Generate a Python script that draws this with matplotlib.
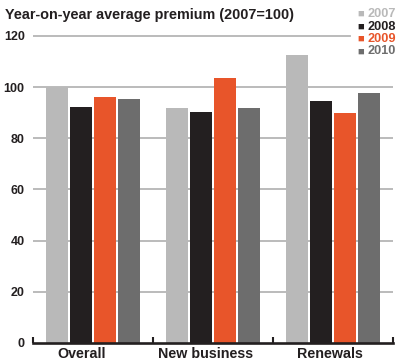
import matplotlib
matplotlib.use("Agg")
import matplotlib.pyplot as plt
import numpy as np

categories = ["Overall", "New business", "Renewals"]
years = ["2007", "2008", "2009", "2010"]
v2007 = [100.0, 92.0, 112.5]
v2008 = [92.3, 90.2, 94.6]
v2009 = [96.0, 103.5, 89.7]
v2010 = [95.2, 91.9, 97.5]
yticks = [0, 20, 40, 60, 80, 100, 120]
colors = ["#b9b9b9", "#231f20", "#e8552a", "#6d6d6d"]

plt.rcParams['font.family'] = ['Liberation Sans', 'DejaVu Sans']

fig = plt.figure(figsize=(4.0, 3.64), dpi=100)
ax = fig.add_axes([0.0825, 0.0577, 0.90, 0.879])
ax.set_xlim(0, 3)
ax.set_ylim(0, 125)

# gridlines
for t in yticks[1:]:
    xmax = 0.88 if t == 120 else 1.0
    ax.axhline(t, xmin=0, xmax=xmax, color="#b5b5b5", lw=1.3, zorder=1)

series = [v2007, v2008, v2009, v2010]
x = np.arange(len(categories)) + 0.5
offsets = [-0.3, -0.1, 0.1, 0.3]
for vals, off, c in zip(series, offsets, colors):
    ax.bar(x + off, vals, width=0.185, color=c, zorder=2)

# baseline and group ticks
ax.axhline(0, color="#231f20", lw=1.9, zorder=3, clip_on=False)
ax.vlines(np.arange(len(categories) + 1), 0, 2.2, color="#231f20", lw=1.5, zorder=3, clip_on=False)

for s in ax.spines.values():
    s.set_visible(False)
ax.set_yticks(yticks)
ax.set_yticklabels([str(t) for t in yticks], fontsize=9, fontweight="bold", color="#231f20")
ax.tick_params(axis='y', length=0, pad=6)
label_shift = np.array([-0.092, -0.058, -0.025])
ax.set_xticks(x + label_shift)
ax.set_xticklabels(categories, fontsize=10.3, fontweight="bold", color="#231f20")
ax.tick_params(axis='x', length=0, pad=3)

fig.text(0.0125, 1 - 14.5/364, "Year-on-year average premium (2007=100)", fontsize=10.4,
         fontweight="bold", color="#231f20", va="center", ha="left")

leg_y = [14, 26.5, 39, 51.5]
for yr, c, yy in zip(years, colors, leg_y):
    fig.text(357/400, 1 - yy/364, "■", fontsize=8, color=c, va="center", ha="left")
    fig.text(367/400, 1 - yy/364, yr, fontsize=9.2, fontweight="bold", color=c, va="center", ha="left")

fig.savefig("out.png", dpi=100)
